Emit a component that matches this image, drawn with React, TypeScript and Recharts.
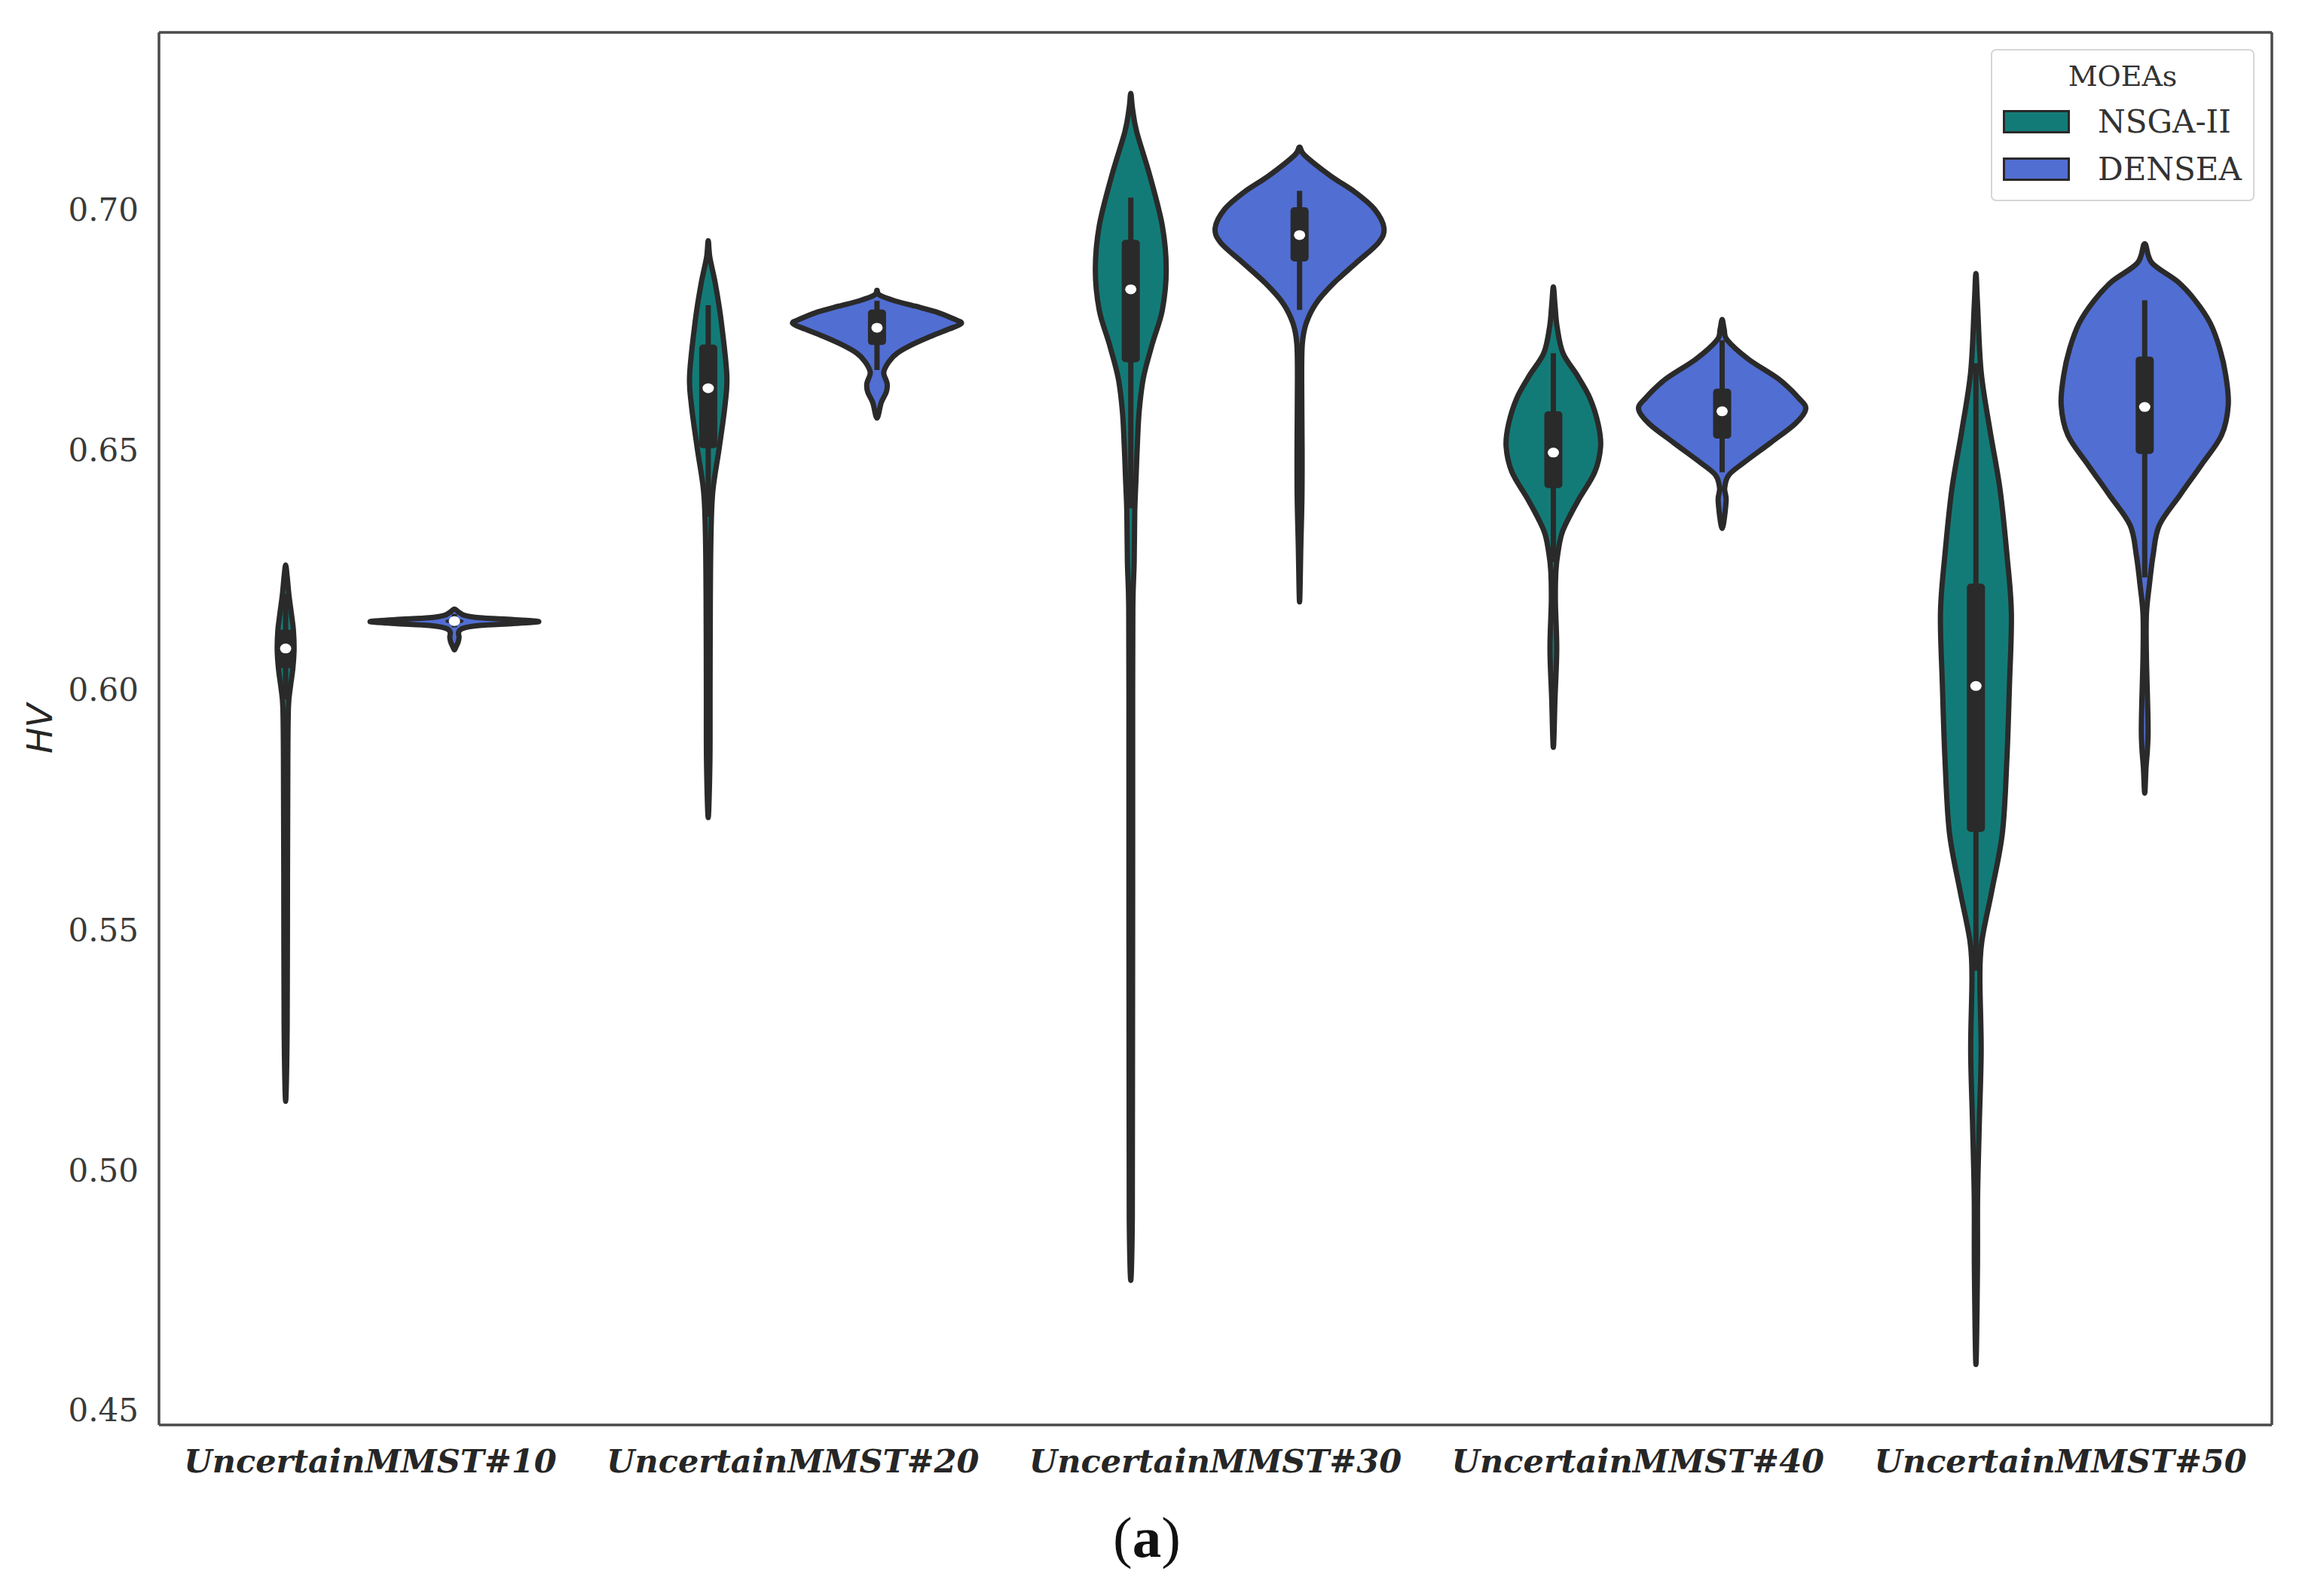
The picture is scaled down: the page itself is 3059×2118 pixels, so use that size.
import React from 'react';
import { BarChart, Bar, XAxis, YAxis, Legend } from 'recharts';

// violin outlines: [HV value, half-width as a share of the widest violin], top to bottom
// boxes: [lower whisker, q1, median, q3, upper whisker]

const categories = [
  'UncertainMMST#10',
  'UncertainMMST#20',
  'UncertainMMST#30',
  'UncertainMMST#40',
  'UncertainMMST#50',
];

const seriesNames = ['NSGA-II', 'DENSEA'];

const nsgaProfiles: [number, number][][] = [
  [[0.626, 0], [0.6236, 0.018], [0.6196, 0.04], [0.6156, 0.07], [0.6124, 0.092], [0.6084, 0.1], [0.6044, 0.085], [0.6004, 0.055], [0.5964, 0.033], [0.586, 0.026], [0.562, 0.022], [0.53, 0.018], [0.5143, 0]],
  [[0.6935, 0], [0.69, 0.02], [0.6845, 0.085], [0.6773, 0.15], [0.6657, 0.22], [0.6594, 0.2], [0.6503, 0.13], [0.6414, 0.055], [0.6323, 0.033], [0.6188, 0.025], [0.6, 0.022], [0.585, 0.02], [0.5734, 0]],
  [[0.7242, 0], [0.7211, 0.02], [0.7162, 0.07], [0.7071, 0.225], [0.6966, 0.374], [0.6875, 0.42], [0.6791, 0.374], [0.6721, 0.256], [0.665, 0.15], [0.6581, 0.1], [0.6511, 0.078], [0.644, 0.062], [0.6371, 0.047], [0.6266, 0.04], [0.618, 0.025], [0.6, 0.022], [0.56, 0.022], [0.52, 0.02], [0.49, 0.018], [0.477, 0]],
  [[0.6839, 0], [0.68, 0.02], [0.6755, 0.045], [0.6701, 0.114], [0.6654, 0.285], [0.6607, 0.434], [0.6554, 0.53], [0.6507, 0.56], [0.6453, 0.49], [0.6393, 0.29], [0.6332, 0.114], [0.6286, 0.055], [0.6246, 0.03], [0.6185, 0.024], [0.6085, 0.04], [0.5984, 0.02], [0.588, 0]],
  [[0.6867, 0], [0.68, 0.02], [0.6662, 0.062], [0.6541, 0.166], [0.6418, 0.285], [0.6282, 0.367], [0.616, 0.42], [0.6008, 0.397], [0.5856, 0.367], [0.5704, 0.315], [0.5583, 0.19], [0.5476, 0.07], [0.5401, 0.047], [0.5249, 0.062], [0.5097, 0.04], [0.4944, 0.02], [0.4792, 0.018], [0.4595, 0]],
];

const denseaProfiles: [number, number][][] = [
  [[0.6168, 0], [0.6162, 0.05], [0.6155, 0.12], [0.615, 0.3], [0.6146, 0.7], [0.6142, 1.0], [0.6138, 0.7], [0.6134, 0.3], [0.6128, 0.1], [0.612, 0.05], [0.611, 0.055], [0.61, 0.045], [0.609, 0.02], [0.6083, 0]],
  [[0.6832, 0], [0.6822, 0.03], [0.681, 0.21], [0.6799, 0.45], [0.6787, 0.7], [0.6773, 0.9], [0.6763, 1.0], [0.6751, 0.85], [0.6737, 0.65], [0.6719, 0.42], [0.6701, 0.24], [0.6683, 0.14], [0.6661, 0.08], [0.6638, 0.12], [0.662, 0.11], [0.6598, 0.05], [0.6566, 0]],
  [[0.713, 0], [0.7113, 0.06], [0.7071, 0.36], [0.7036, 0.66], [0.7001, 0.887], [0.6962, 1.0], [0.6931, 0.935], [0.6889, 0.67], [0.6846, 0.4], [0.6805, 0.196], [0.6763, 0.078], [0.6721, 0.033], [0.665, 0.025], [0.65, 0.03], [0.64, 0.028], [0.63, 0.015], [0.6183, 0]],
  [[0.6771, 0], [0.675, 0.025], [0.6728, 0.062], [0.6688, 0.315], [0.6647, 0.67], [0.6607, 0.91], [0.6584, 0.99], [0.6554, 0.865], [0.6514, 0.57], [0.6473, 0.256], [0.6447, 0.078], [0.642, 0.03], [0.6393, 0.047], [0.6336, 0]],
  [[0.6929, 0], [0.6889, 0.085], [0.685, 0.39], [0.6811, 0.597], [0.6764, 0.775], [0.671, 0.89], [0.6655, 0.96], [0.6593, 0.99], [0.653, 0.91], [0.6468, 0.67], [0.6406, 0.42], [0.6343, 0.174], [0.6281, 0.1], [0.6218, 0.055], [0.6156, 0.02], [0.607, 0.02], [0.5914, 0.04], [0.5836, 0.015], [0.5785, 0]],
];

const nsgaBoxes = [
  [0.598, 0.6045, 0.6086, 0.6125, 0.62],
  [0.636, 0.6503, 0.6628, 0.6719, 0.6801],
  [0.6378, 0.6682, 0.6834, 0.6937, 0.7025],
  [0.6266, 0.642, 0.6494, 0.658, 0.6701],
  [0.5415, 0.5704, 0.6008, 0.6221, 0.668],
];

const denseaBoxes = [
  [0.613, 0.6139, 0.6143, 0.6147, 0.6158],
  [0.6666, 0.6718, 0.6754, 0.6792, 0.681],
  [0.6791, 0.6892, 0.6947, 0.7005, 0.7039],
  [0.6453, 0.6523, 0.658, 0.6627, 0.6728],
  [0.6234, 0.6491, 0.6589, 0.6694, 0.6811],
];

const yTicks = [0.45, 0.5, 0.55, 0.6, 0.65, 0.7];
const yDomain: [number, number] = [0.4469, 0.7369];

const TEAL = '#137b77';
const BLUE = '#516ed2';
const INK = '#2a2a2a';
const SPINE = '#4a4a4a';

const extent = (p: [number, number][]) => [p[p.length - 1][0], p[0][0]];

const data = categories.map((category, i) => ({
  category,
  nsga: extent(nsgaProfiles[i]),
  densea: extent(denseaProfiles[i]),
  nsgaProfile: nsgaProfiles[i],
  denseaProfile: denseaProfiles[i],
  nsgaBox: nsgaBoxes[i],
  denseaBox: denseaBoxes[i],
}));

function smoothClosed(pts: number[][]) {
  const n = pts.length;
  let d = `M${pts[0][0]},${pts[0][1]}`;
  for (let i = 0; i < n; i++) {
    const p0 = pts[(i - 1 + n) % n];
    const p1 = pts[i];
    const p2 = pts[(i + 1) % n];
    const p3 = pts[(i + 2) % n];
    const c1x = p1[0] + (p2[0] - p0[0]) / 6;
    const c1y = p1[1] + (p2[1] - p0[1]) / 6;
    const c2x = p2[0] - (p3[0] - p1[0]) / 6;
    const c2y = p2[1] - (p3[1] - p1[1]) / 6;
    d += `C${c1x},${c1y},${c2x},${c2y},${p2[0]},${p2[1]}`;
  }
  return d + 'Z';
}

// the bar gives the pixel span of [min, max]; everything inside is mapped linearly onto it
function Violin(props: any) {
  const { x, y, width, height, series, fill } = props;
  const row = props.payload ?? props;
  const [lo, hi] = row[series];
  const profile: [number, number][] = row[series + 'Profile'];
  const box: number[] = row[series + 'Box'];
  const top = Math.min(y, y + height);
  const h = Math.abs(height);
  const toY = (v: number) => top + ((hi - v) / (hi - lo)) * h;
  const cx = x + width / 2;
  const hw = width / 2;

  const right = profile.map(([v, f]) => [cx + f * hw, toY(v)]);
  const left = profile
    .slice(1, -1)
    .reverse()
    .map(([v, f]) => [cx - f * hw, toY(v)]);
  const [wLo, q1, med, q3, wHi] = box;

  return (
    <g>
      <path d={smoothClosed([...right, ...left])} fill={fill} stroke={INK} strokeWidth={7} strokeLinejoin="round" />
      <line x1={cx} x2={cx} y1={toY(wHi)} y2={toY(wLo)} stroke={INK} strokeWidth={7} />
      <rect x={cx - 12} y={toY(q3)} width={24} height={Math.max(toY(q1) - toY(q3), 4)} rx={5} fill={INK} />
      <ellipse cx={cx} cy={toY(med)} rx={7.5} ry={6.5} fill="#ffffff" />
    </g>
  );
}

function XTick({ x, y, payload }: any) {
  return (
    <text
      x={x}
      y={y + 61}
      textAnchor="middle"
      fill="#262626"
      fontFamily="'DejaVu Serif', serif"
      fontWeight="bold"
      fontStyle="italic"
      fontSize={43}
    >
      {payload.value}
    </text>
  );
}

function HvLabel({ viewBox }: any) {
  const lx = viewBox.x + 53;
  const ly = viewBox.y + viewBox.height / 2;
  return (
    <text
      x={lx}
      y={ly}
      transform={`rotate(-90 ${lx} ${ly})`}
      textAnchor="middle"
      dominantBaseline="central"
      fill="#262626"
      fontFamily="'DejaVu Sans', sans-serif"
      fontStyle="italic"
      fontSize={46}
    >
      HV
    </text>
  );
}

function Caption({ viewBox }: any) {
  return (
    <text
      x={viewBox.x + viewBox.width / 2 - 91}
      y={viewBox.y + 175}
      textAnchor="middle"
      fill="#111111"
      fontFamily="'Liberation Serif', serif"
      fontSize={77}
    >
      (<tspan fontWeight="bold">a</tspan>)
    </text>
  );
}

function LegendBox({ payload }: any) {
  const items = [...(payload ?? [])].sort(
    (a: any, b: any) => seriesNames.indexOf(a.value) - seriesNames.indexOf(b.value),
  );
  return (
    <div
      style={{
        boxSizing: 'border-box',
        position: 'relative',
        width: 350,
        height: 202,
        border: '2px solid #d6d6d6',
        borderRadius: 7,
        background: 'rgba(255,255,255,0.85)',
        fontFamily: "'DejaVu Serif', serif",
        color: '#333333',
      }}
    >
      <div style={{ position: 'absolute', top: 15, left: 0, width: '100%', textAlign: 'center', fontSize: 38, lineHeight: 1 }}>
        MOEAs
      </div>
      {items.map((entry: any, i: number) => (
        <div key={entry.value} style={{ position: 'absolute', left: 0, top: 79 + i * 62.5, height: 31, width: '100%' }}>
          <div
            style={{
              position: 'absolute',
              left: 14,
              top: 0,
              width: 89,
              height: 31,
              boxSizing: 'border-box',
              background: entry.color,
              border: `3px solid ${INK}`,
            }}
          />
          <div style={{ position: 'absolute', left: 140, top: -5, fontSize: 42, lineHeight: 1 }}>{entry.value}</div>
        </div>
      ))}
    </div>
  );
}

export default function App() {
  return (
    <div style={{ position: 'absolute', left: 0, top: 0, width: 3059, height: 2118, background: '#ffffff' }}>
      <BarChart
        width={3059}
        height={2118}
        data={data}
        margin={{ top: 42, right: 43, bottom: 0, left: 0 }}
        barCategoryGap="10%"
        barGap={0}
      >
        <XAxis
          dataKey="category"
          height={227}
          interval={0}
          tickLine={false}
          tickSize={0}
          axisLine={{ stroke: SPINE, strokeWidth: 3.5 }}
          tick={<XTick />}
          label={<Caption />}
        />
        <XAxis
          xAxisId="top"
          dataKey="category"
          orientation="top"
          height={1}
          tick={false}
          tickLine={false}
          axisLine={{ stroke: SPINE, strokeWidth: 3.5 }}
        />
        <YAxis
          type="number"
          domain={yDomain}
          ticks={yTicks}
          width={211}
          tickLine={false}
          tickSize={0}
          tickMargin={27}
          tickFormatter={(v: number) => v.toFixed(2)}
          tick={{ fill: '#3a3a3a', fontSize: 42, fontFamily: "'DejaVu Serif', serif" }}
          axisLine={{ stroke: SPINE, strokeWidth: 3.5 }}
          label={<HvLabel />}
        />
        <YAxis
          yAxisId="right"
          orientation="right"
          type="number"
          domain={yDomain}
          width={1}
          tick={false}
          tickLine={false}
          axisLine={{ stroke: SPINE, strokeWidth: 3.5 }}
        />
        <Legend
          layout="vertical"
          align="center"
          verticalAlign="middle"
          content={<LegendBox />}
          wrapperStyle={{ left: 2642, top: 65, width: 350, height: 202 }}
        />
        <Bar
          dataKey="nsga"
          name={seriesNames[0]}
          fill={TEAL}
          isAnimationActive={false}
          shape={(p: any) => <Violin {...p} series="nsga" fill={TEAL} />}
        />
        <Bar
          dataKey="densea"
          name={seriesNames[1]}
          fill={BLUE}
          isAnimationActive={false}
          shape={(p: any) => <Violin {...p} series="densea" fill={BLUE} />}
        />
      </BarChart>
    </div>
  );
}
